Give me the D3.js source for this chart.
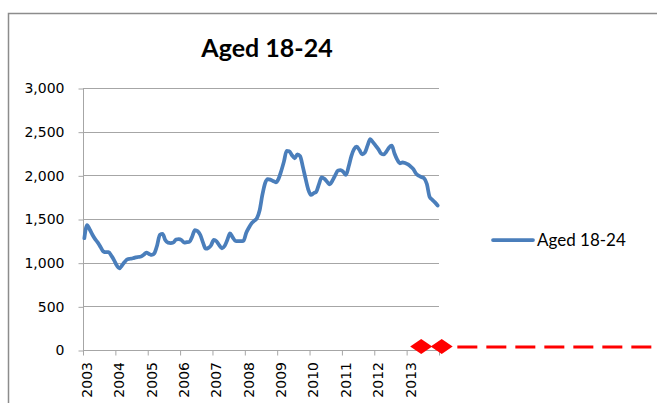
<!DOCTYPE html>
<html>
<head>
<meta charset="utf-8">
<script src="https://cdn.jsdelivr.net/npm/d3@7"></script>
<style>
  body { margin: 0; background: #fff; }
  svg { display: block; }
</style>
</head>
<body>
<div id="chart"></div>
<script>
// ---- data (monthly, Jan 2003 .. Dec 2013) ----
const years = ["2003","2004","2005","2006","2007","2008","2009","2010","2011","2012","2013"];
const yTicks = [0, 500, 1000, 1500, 2000, 2500, 3000];
const seriesName = "Aged 18-24";
const aged1824 = [
  1280,1430,1380,1320,1270,1230,1180,1130,1120,1120,1080,1030,
  970,935,970,1010,1040,1045,1050,1060,1065,1070,1090,1114,
  1100,1088,1110,1200,1320,1330,1260,1229,1225,1230,1265,1270,
  1260,1230,1235,1240,1300,1374,1360,1317,1230,1160,1170,1200,
  1260,1245,1200,1165,1190,1260,1336,1290,1250,1248,1248,1250,
  1340,1400,1450,1480,1510,1600,1775,1909,1958,1950,1935,1920,
  1960,2050,2157,2279,2275,2230,2195,2241,2220,2100,1966,1840,
  1775,1795,1813,1900,1977,1960,1927,1897,1940,2000,2053,2061,
  2040,2004,2100,2220,2300,2328,2290,2240,2260,2340,2416,2380,
  2340,2300,2250,2240,2271,2320,2339,2250,2180,2138,2149,2140,
  2126,2100,2070,2020,1995,1980,1966,1900,1756,1720,1690,1655
];
// red markers sitting on the zero line (month index, value)
const markerMonths = [125.4, 133.0];
const markerValues = [40, 40];
const dashStartMonth = 138.8;
const dashValue = 35;

const W = 657, H = 403;
const plot = {left: 83, right: 439, top: 88, bottom: 350};

const svg = d3.select("#chart").append("svg")
  .attr("width", W).attr("height", H);

// chart area border (runs off the picture on the right / bottom)
svg.append("rect")
  .attr("x", 8.5).attr("y", 13.5)
  .attr("width", 720).attr("height", 460)
  .attr("fill", "none")
  .attr("stroke", "#8c8c8c")
  .attr("stroke-width", 1.5);

const x = d3.scaleLinear()
  .domain([0, years.length * 12])
  .range([plot.left, plot.right]);

const y = d3.scaleLinear()
  .domain([0, 3000])
  .range([plot.bottom, plot.top]);

// gridlines
svg.append("g")
  .selectAll("line")
  .data(yTicks.filter(d => d > 0))
  .join("line")
  .attr("x1", plot.left).attr("x2", plot.right)
  .attr("y1", d => Math.round(y(d)) + 0.5)
  .attr("y2", d => Math.round(y(d)) + 0.5)
  .attr("stroke", "#a6a6a6")
  .attr("stroke-width", 1);

// y axis
const yAxis = d3.axisLeft(y)
  .tickValues(yTicks)
  .tickSize(5)
  .tickPadding(14)
  .tickFormat(d3.format(","));

const gy = svg.append("g")
  .attr("transform", "translate(" + (plot.left + 0.5) + ",0.5)")
  .call(yAxis);
gy.select(".domain").attr("stroke", "#a6a6a6").attr("d", "M0," + plot.bottom + "V" + plot.top);
gy.selectAll(".tick line").attr("stroke", "#a6a6a6");
gy.selectAll(".tick text")
  .attr("fill", "#000")
  .style("font-family", "DejaVu Sans")
  .style("font-size", "14px");

// x axis (category axis, tick every 12 months)
const xTickVals = d3.range(0, years.length * 12 + 1, 12);
const xAxis = d3.axisBottom(x)
  .tickValues(xTickVals)
  .tickSize(5)
  .tickFormat("");

const gx = svg.append("g")
  .attr("transform", "translate(0," + (plot.bottom + 0.5) + ")")
  .call(xAxis);
gx.select(".domain").attr("stroke", "#a6a6a6").attr("d", "M" + plot.left + ",0H" + plot.right);
gx.selectAll(".tick line").attr("stroke", "#a6a6a6");

svg.append("g")
  .selectAll("text")
  .data(years)
  .join("text")
  .attr("transform", (d, i) => "translate(" + (x(i * 12) + 4) + "," + (plot.bottom + 12) + ") rotate(-90)")
  .attr("text-anchor", "end")
  .attr("dy", "0.35em")
  .style("font-family", "DejaVu Sans")
  .style("font-size", "14px")
  .text(d => d);

// series line
const line = d3.line()
  .x((d, i) => x(i + 0.5))
  .y(d => y(d))
  .curve(d3.curveMonotoneX);

svg.append("path")
  .datum(aged1824)
  .attr("fill", "none")
  .attr("stroke", "#4a7ebb")
  .attr("stroke-width", 3.75)
  .attr("stroke-linejoin", "round")
  .attr("stroke-linecap", "round")
  .attr("d", line);

// red diamonds + dashed line
svg.append("g")
  .selectAll("path")
  .data(markerMonths)
  .join("path")
  .attr("d", "M-11,0L0,-7.5L11,0L0,7.5Z")
  .attr("transform", (d, i) => "translate(" + x(d) + "," + y(markerValues[i]) + ")")
  .attr("fill", "#ff0000");

svg.append("line")
  .attr("x1", x(dashStartMonth)).attr("x2", W + 20)
  .attr("y1", y(dashValue)).attr("y2", y(dashValue))
  .attr("stroke", "#ff0000")
  .attr("stroke-width", 3)
  .attr("stroke-dasharray", "20,9");

// title
svg.append("text")
  .attr("x", 267).attr("y", 57)
  .attr("text-anchor", "middle")
  .style("font-family", "Lato")
  .style("font-weight", "bold")
  .style("font-size", "25px")
  .text(seriesName);

// legend
const lg = svg.append("g").attr("transform", "translate(493,240)");
lg.append("line")
  .attr("x1", 0).attr("x2", 40)
  .attr("stroke", "#4a7ebb")
  .attr("stroke-width", 3.75)
  .attr("stroke-linecap", "round");
lg.append("text")
  .attr("x", 44).attr("y", 0)
  .attr("dy", "0.35em")
  .style("font-family", "Lato")
  .style("font-size", "17px")
  .text(seriesName);
</script>
</body>
</html>
